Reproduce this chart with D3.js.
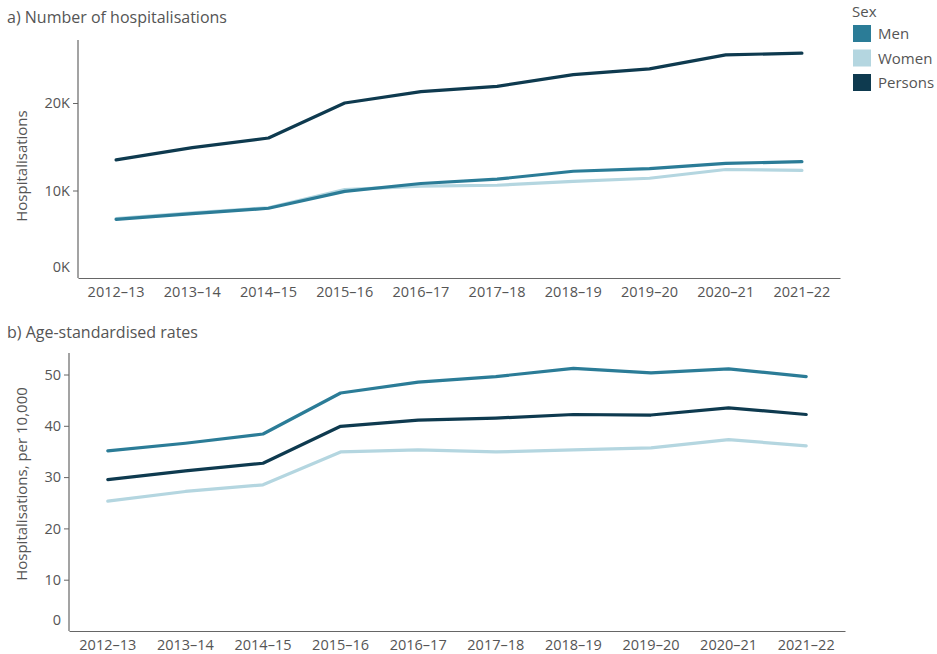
<!DOCTYPE html>
<html>
<head>
<meta charset="utf-8">
<script src="https://cdn.jsdelivr.net/npm/d3@7"></script>
<style>
  html, body { margin: 0; padding: 0; background: #fff; }
  svg text { font-family: "Open Sans", "Noto Sans", sans-serif; fill: #555; }
</style>
</head>
<body>
<svg id="chart" width="937" height="654"></svg>
<script>
// Financial years shown on both x axes
const years = ["2012–13","2013–14","2014–15","2015–16","2016–17","2017–18","2018–19","2019–20","2020–21","2021–22"];

// a) Number of hospitalisations
const countMen     = [6700, 7350, 7970, 9900, 10800, 11300, 12200, 12500, 13100, 13300];
const countWomen   = [6800, 7450, 8030, 10100, 10500, 10600, 11050, 11400, 12400, 12300];
const countPersons = [13500, 14900, 16000, 20000, 21300, 21900, 23250, 23900, 25500, 25700];

// b) Age-standardised rates per 10,000
const rateMen     = [35.1, 36.6, 38.4, 46.4, 48.5, 49.6, 51.2, 50.3, 51.1, 49.6];
const rateWomen   = [25.3, 27.2, 28.5, 34.9, 35.3, 34.9, 35.3, 35.7, 37.3, 36.1];
const ratePersons = [29.5, 31.2, 32.7, 39.9, 41.1, 41.5, 42.2, 42.1, 43.5, 42.2];

const countTicks = [0, 10000, 20000];
const rateTicks  = [0, 10, 20, 30, 40, 50];

const sexes = ["Men", "Women", "Persons"];
const colour = d3.scaleOrdinal().domain(sexes).range(["#2b7c97", "#b4d6e0", "#0e3a4f"]);

const svg = d3.select("#chart");

function panel(opts) {
  const g = svg.append("g");
  const x = d3.scaleBand().domain(years).range([opts.left, opts.right]);
  const y = d3.scaleLinear().domain(opts.domain).range([opts.bottom, opts.bottom - opts.pxPerUnit * opts.domain[1]]);

  // title
  g.append("text").attr("x", 7).attr("y", opts.titleY)
    .style("font-size", "16px").attr("fill", "#444").text(opts.title);

  // y axis
  const yAxis = g.append("g").attr("transform", `translate(${opts.left},0)`)
    .call(d3.axisLeft(y).tickValues(opts.ticks).tickFormat(opts.fmt).tickSize(5).tickPadding(3));
  yAxis.select(".domain").remove();
  yAxis.selectAll(".tick line").attr("stroke", "#666");
  yAxis.selectAll(".tick").filter(d => d === 0).select("line").remove();
  yAxis.selectAll(".tick").filter(d => d === 0).select("text").attr("dy", "-0.45em");
  yAxis.selectAll("text").style("font-size", "14.5px").attr("fill", "#555");
  g.append("line").attr("x1", opts.left).attr("x2", opts.left)
    .attr("y1", opts.axisTop).attr("y2", opts.bottom).attr("stroke", "#666").attr("stroke-width", 1.2);

  // x axis
  const xAxis = g.append("g").attr("transform", `translate(0,${opts.bottom})`)
    .call(d3.axisBottom(x).tickSize(0).tickPadding(9));
  xAxis.select(".domain").attr("stroke", "#666").attr("stroke-width", 1.2);
  xAxis.selectAll("text").style("font-size", "14.5px").attr("fill", "#555");

  // y axis title
  g.append("text")
    .attr("transform", `translate(${opts.yTitleX},${opts.yTitleY}) rotate(-90)`)
    .attr("text-anchor", "middle").style("font-size", "15px").attr("fill", "#444")
    .text(opts.yTitle);

  const line = d3.line()
    .x((d, i) => x(years[i]) + x.bandwidth() / 2)
    .y(d => y(d));

  opts.series.forEach(s => {
    g.append("path").datum(s.values)
      .attr("d", line).attr("fill", "none")
      .attr("stroke", colour(s.key)).attr("stroke-width", 3.2)
      .attr("stroke-linejoin", "round").attr("stroke-linecap", "round");
  });
}

panel({
  title: "a) Number of hospitalisations", titleY: 23,
  left: 78, right: 840, bottom: 278, axisTop: 40, pxPerUnit: 87.5 / 10000,
  domain: [0, 27000], ticks: countTicks, fmt: d => (d / 1000) + "K",
  yTitle: "Hospitalisations", yTitleX: 27, yTitleY: 166,
  series: [
    { key: "Women", values: countWomen },
    { key: "Men", values: countMen },
    { key: "Persons", values: countPersons }
  ]
});

panel({
  title: "b) Age-standardised rates", titleY: 338,
  left: 69, right: 845, bottom: 631, axisTop: 353, pxPerUnit: 51.3 / 10,
  domain: [0, 54], ticks: rateTicks, fmt: d3.format("d"),
  yTitle: "Hospitalisations, per 10,000", yTitleX: 27, yTitleY: 484,
  series: [
    { key: "Women", values: rateWomen },
    { key: "Men", values: rateMen },
    { key: "Persons", values: ratePersons }
  ]
});

// legend
const legend = svg.append("g").attr("transform", "translate(852,0)");
legend.append("text").attr("x", 0).attr("y", 17).style("font-size", "15px").attr("fill", "#444").text("Sex");
sexes.forEach((s, i) => {
  const row = legend.append("g").attr("transform", `translate(1,${25 + i * 24.5})`);
  row.append("rect").attr("width", 18).attr("height", 17).attr("fill", colour(s));
  row.append("text").attr("x", 25).attr("y", 14).style("font-size", "15px").attr("fill", "#555").text(s);
});
</script>
</body>
</html>
